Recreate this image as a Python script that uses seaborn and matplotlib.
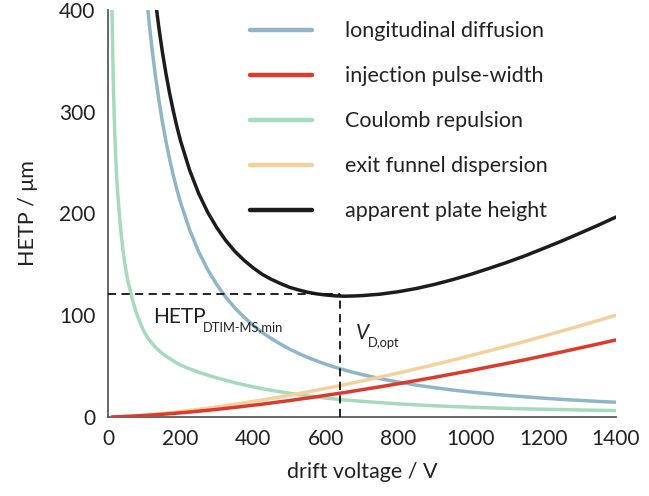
import numpy as np
import pandas as pd
import matplotlib
matplotlib.use("Agg")
import matplotlib.pyplot as plt
import seaborn as sns

nan = np.nan

# drift voltage grid (V)
voltage = [11, 13, 15, 17.5, 20, 22.5, 25, 30, 35, 40, 45, 50, 55, 60, 70, 80, 90, 100,
           110, 115, 120, 125, 130, 140, 150, 160, 170, 180, 190, 200,
           225, 250, 275, 300, 325, 350, 375, 400,
           425, 450, 475, 500, 525, 550, 575, 600, 625, 650, 675, 700,
           750, 800, 850, 900, 950, 1000, 1050, 1100, 1150, 1200, 1250, 1300, 1350, 1400]

# HETP contributions (µm)
longitudinal = [nan] * 18 + [
    400, 382.5, 366.3, 351.3, 337.3, 312.1, 290.0, 270.4, 253.0, 237.4, 223.4, 210.8,
    183.9, 162.3, 144.7, 130.0, 117.6, 107.0, 98.0, 90.1,
    83.1, 77.1, 71.7, 66.8, 62.5, 58.6, 55.1, 51.9, 49.0, 46.4, 43.9, 41.7,
    37.7, 34.3, 31.3, 28.8, 26.5, 24.5, 22.8, 21.2, 19.8, 18.5, 17.3, 16.3, 15.3, 14.5]
coulomb = [400, 357, 324, 292, 266, 246, 229, 205, 184, 168, 154, 143, 133, 126, 112, 100.5, 91.5, 83.4,
           77.7, 75.3, 73, 71, 69, 65.5, 62.3, 59.8, 57.4, 55.2, 53, 51,
           47.3, 44, 41, 38.5, 36, 33.7, 31.6, 29.6,
           27.8, 26.2, 24.7, 23.3, 22.0, 20.8, 19.7, 18.6, 17.7, 16.8, 16.1, 15.4,
           14.1, 12.9, 11.9, 11.0, 10.3, 9.6, 9.0, 8.5, 8.0, 7.6, 7.25, 6.9, 6.6, 6.3]
funnel = [0.07, 0.09, 0.11, 0.14, 0.17, 0.20, 0.24, 0.31, 0.40, 0.48, 0.58, 0.68, 0.78, 0.89, 1.12, 1.37, 1.63, 1.91,
          2.2, 2.35, 2.51, 2.67, 2.83, 3.16, 3.51, 3.86, 4.23, 4.61, 5.0, 5.40,
          6.44, 7.55, 8.71, 9.92, 11.2, 12.5, 13.9, 15.3,
          16.7, 18.2, 19.8, 21.3, 23.0, 24.6, 26.3, 28.1, 29.8, 31.6, 33.5, 35.4,
          39.2, 43.2, 47.3, 51.5, 55.9, 60.4, 65.0, 69.6, 74.4, 79.4, 84.4, 89.5, 94.7, 100]
injection = [0.05, 0.07, 0.08, 0.11, 0.13, 0.15, 0.18, 0.23, 0.30, 0.36, 0.44, 0.51, 0.59, 0.67, 0.85, 1.04, 1.23, 1.45,
             1.67, 1.78, 1.9, 2.02, 2.14, 2.39, 2.66, 2.92, 3.2, 3.49, 3.79, 4.09,
             4.88, 5.72, 6.59, 7.51, 8.48, 9.46, 10.5, 11.6,
             12.6, 13.8, 15.0, 16.1, 17.4, 18.6, 19.9, 21.3, 22.6, 23.9, 25.4, 26.8,
             29.7, 32.7, 35.8, 39.0, 42.3, 45.7, 49.2, 52.7, 56.3, 60.1, 63.9, 67.8, 71.7, 75.7]

# optimum
v_opt = 640
hetp_min = 120.5

df = pd.DataFrame({
    "voltage": voltage,
    "longitudinal diffusion": longitudinal,
    "injection pulse-width": injection,
    "Coulomb repulsion": coulomb,
    "exit funnel dispersion": funnel,
})
# apparent plate height = sum of all contributions
df["apparent plate height"] = df[["longitudinal diffusion", "injection pulse-width",
                                  "Coulomb repulsion", "exit funnel dispersion"]].sum(axis=1, skipna=False)

series = ["longitudinal diffusion", "injection pulse-width", "Coulomb repulsion",
          "exit funnel dispersion", "apparent plate height"]
colors = ["#8fb6c8", "#dd3a2e", "#a5dabd", "#f4d19c", "#1c1c1c"]
zorders = [2, 4, 3, 3, 5]

sns.set_style("white")
plt.rcParams["font.family"] = ["Lato", "DejaVu Sans"]
plt.rcParams["mathtext.fontset"] = "custom"
plt.rcParams["mathtext.rm"] = "Lato"
plt.rcParams["mathtext.it"] = "Lato:italic"

fig = plt.figure(figsize=(6.49, 4.96), dpi=100)
ax = fig.add_axes([0.1664, 0.1593, 0.7827, 0.8206])

for name, col, z in zip(series, colors, zorders):
    sns.lineplot(data=df, x="voltage", y=name, color=col, lw=2.5, label=name,
                 ax=ax, zorder=z, solid_capstyle="round")

# dashed guides to the optimum
ax.plot([0, v_opt], [hetp_min, hetp_min], ls=(0, (4.5, 3)), color="#111111", lw=1.3, zorder=6)
ax.plot([v_opt, v_opt], [0, hetp_min], ls=(0, (4.5, 3)), color="#111111", lw=1.3, zorder=6)

ax.text(125, 92, "HETP", fontsize=15, color="#222222")
ax.text(262, 84.5, "DTIM‐MS,min", fontsize=9.3, color="#222222")
ax.text(681, 77, "$V$", fontsize=15, color="#222222")
ax.text(717, 69, "D,opt", fontsize=9.3, color="#222222")

ax.set_xlim(0, 1400)
ax.set_ylim(0, 400)
ax.set_xticks(range(0, 1401, 200))
ax.set_yticks(range(0, 401, 100))
ax.set_xlabel("drift voltage / V", fontsize=15.5, color="#222222", labelpad=9)
ax.set_ylabel("HETP / μm", fontsize=15.5, color="#222222", labelpad=15)

sns.despine(ax=ax)
for side in ["left", "bottom"]:
    ax.spines[side].set_color("#5a5a5a")
    ax.spines[side].set_linewidth(1.3)
ax.tick_params(direction="out", length=5, width=1.2, color="#5a5a5a",
               labelsize=15, labelcolor="#222222", pad=4)

leg = ax.legend(loc="upper left", bbox_to_anchor=(0.241, 1.02), frameon=False,
                fontsize=15.5, handlelength=2.9, handletextpad=1.53, labelspacing=1.16)
for line in leg.get_lines():
    line.set_linewidth(3.2)
for t in leg.get_texts():
    t.set_color("#222222")

fig.savefig("out.png", dpi=100)
